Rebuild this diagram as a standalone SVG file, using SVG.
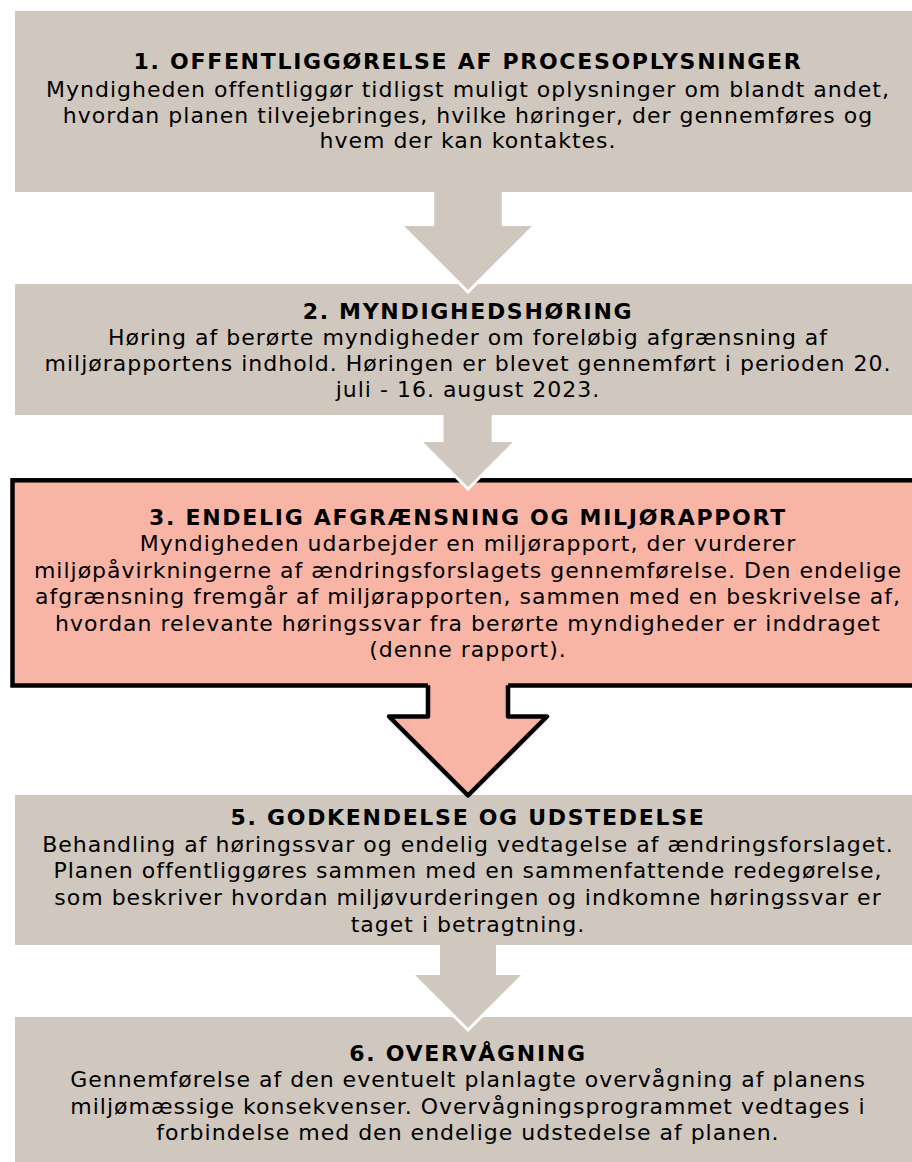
<svg xmlns="http://www.w3.org/2000/svg" width="912" height="1162" viewBox="0 0 912 1162">
<style>
.box{fill:#D0C8BE;stroke:none}
.hl{fill:#F8B5A6;stroke:#000;stroke-width:4.5}
text{font-family:"DejaVu Sans","Verdana",sans-serif;font-size:22px;letter-spacing:1px;fill:#000;text-anchor:middle}
.t{font-weight:bold;letter-spacing:1.7px}
.arr{fill:#D0C8BE;stroke:none}
.edge{fill:none;stroke:#fff;stroke-width:3;stroke-linejoin:miter}
.arrh{fill:#F8B5A6;stroke:none}
.arrhs{fill:none;stroke:#000;stroke-width:4.5;stroke-linejoin:round;stroke-linecap:square}
</style>
<rect width="912" height="1162" fill="#fff"/>
<g id="node1">
<rect class="box" x="15" y="11" width="906" height="181"/>
<text class="t" x="468" y="69.3">1. OFFENTLIGGØRELSE AF PROCESOPLYSNINGER</text>
<text x="468" y="96.7">Myndigheden offentliggør tidligst muligt oplysninger om blandt andet,</text>
<text x="468" y="122.5">hvordan planen tilvejebringes, hvilke høringer, der gennemføres og</text>
<text x="468" y="148">hvem der kan kontaktes.</text>
</g>
<g id="node2">
<rect class="box" x="15" y="284" width="906" height="131"/>
<text class="t" x="468" y="318.5">2. MYNDIGHEDSHØRING</text>
<text x="468" y="345">Høring af berørte myndigheder om foreløbig afgrænsning af</text>
<text x="468" y="371">miljørapportens indhold. Høringen er blevet gennemført i perioden 20.</text>
<text x="468" y="396.7">juli - 16. august 2023.</text>
</g>
<g id="node3">
<rect class="hl" x="12.5" y="480.3" width="920" height="205.2"/>
<text class="t" x="468" y="525">3. ENDELIG AFGRÆNSNING OG MILJØRAPPORT</text>
<text x="468" y="551">Myndigheden udarbejder en miljørapport, der vurderer</text>
<text x="468" y="577.5">miljøpåvirkningerne af ændringsforslagets gennemførelse. Den endelige</text>
<text x="468" y="604">afgrænsning fremgår af miljørapporten, sammen med en beskrivelse af,</text>
<text x="468" y="630.5">hvordan relevante høringssvar fra berørte myndigheder er inddraget</text>
<text x="468" y="657">(denne rapport).</text>
</g>
<g id="node5">
<rect class="box" x="15" y="795" width="906" height="150"/>
<text class="t" x="468" y="825">5. GODKENDELSE OG UDSTEDELSE</text>
<text x="468" y="851.7">Behandling af høringssvar og endelig vedtagelse af ændringsforslaget.</text>
<text x="468" y="878.3">Planen offentliggøres sammen med en sammenfattende redegørelse,</text>
<text x="468" y="905">som beskriver hvordan miljøvurderingen og indkomne høringssvar er</text>
<text x="468" y="931.7">taget i betragtning.</text>
</g>
<g id="node6">
<rect class="box" x="15" y="1017" width="906" height="150"/>
<text class="t" x="468" y="1060.7">6. OVERVÅGNING</text>
<text x="468" y="1087.3">Gennemførelse af den eventuelt planlagte overvågning af planens</text>
<text x="468" y="1114">miljømæssige konsekvenser. Overvågningsprogrammet vedtages i</text>
<text x="468" y="1140">forbindelse med den endelige udstedelse af planen.</text>
</g>
<g id="connectors">
<g id="c1-2">
<polygon class="arr" points="434.3,192 501.7,192 501.7,226 534,226 468,292 402,226 434.3,226"/>
<polyline class="edge" points="402,226 468,292 534,226"/>
</g>
<g id="c2-3">
<polygon class="arr" points="443.5,415 491.7,415 491.7,442 515,442 468,489 421,442 443.5,442"/>
<polyline class="edge" points="421,442 468,489 515,442"/>
</g>
<g id="c3-5">
<polygon class="arrh" points="428,683 508,683 508,716.5 547,716.5 468,795.5 389,716.5 428,716.5"/>
<polyline class="arrhs" points="428,687.5 428,716.5 389,716.5 468,795.5 547,716.5 508,716.5 508,687.5"/>
</g>
<g id="c5-6">
<polygon class="arr" points="440,945 496,945 496,975 523,975 468,1030 413,975 440,975"/>
<polyline class="edge" points="413,975 468,1030 523,975"/>
</g>
</g>
</svg>
